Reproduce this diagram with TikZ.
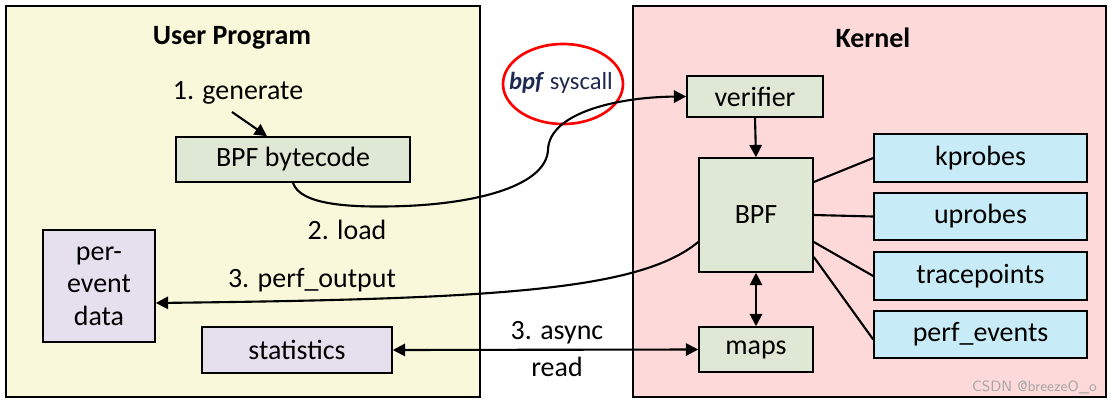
\documentclass[tikz,border=0pt]{standalone}
\usepackage{fontspec}
\setmainfont{Carlito}
\usepackage{xcolor}
\usetikzlibrary{arrows.meta}
\usetikzlibrary{shapes.geometric}
\definecolor{userbg}{RGB}{250,248,218}
\definecolor{kernbg}{RGB}{253,217,217}
\definecolor{greenbox}{RGB}{223,231,213}
\definecolor{bluebox}{RGB}{200,236,247}
\definecolor{lilacbox}{RGB}{230,224,238}
\definecolor{navy}{RGB}{31,42,80}

\begin{document}
\begin{tikzpicture}[x=0.02cm,y=-0.02cm,
		font=\fontsize{15.9}{18.5}\selectfont,
		box/.style={draw, line width=0.9pt, inner sep=0pt},
		link/.style={line width=1.2pt},
		arr/.style={line width=1.2pt, -{Triangle[length=7pt,width=7pt]}}]
			\useasboundingbox (0,0) rectangle (1119,403);
			\filldraw[fill=userbg, line width=0.9pt](6,6)rectangle(480,397);
			\filldraw[fill=kernbg, line width=0.9pt](633,6)rectangle(1106,397);
			\node[font=\fontsize{15.9}{18.5}\selectfont\bfseries] (user) at (232,38) {User Program};
			\node[font=\fontsize{15.9}{18.5}\selectfont\bfseries] (kernel) at (873,38) {Kernel};
			% user side
			\node (gen) at (238,93) {1. generate};
			\node[box, fill=greenbox, minimum width=4.68cm, minimum height=0.9cm] (code) at (293,159.5) {BPF bytecode};
			\node[box, fill=lilacbox, minimum width=2.24cm, minimum height=2.24cm, align=center] (perevent) at (99,286) {per-\\event\\data};
			\node[box, fill=lilacbox, minimum width=3.8cm, minimum height=0.92cm] (stats) at (297,350) {statistics};
			\node (load) at (347,230) {2. load};
			\node (perfout) at (312,280) {3. perf\_output};
			\node (async) at (557,333) {3. async};
			\node (read) at (557,367) {read};
			\node[text=navy, font=\fontsize{14}{16}\selectfont] (sys) at (561,83) {\textbf{\textit{bpf}} syscall};
			\draw[red, line width=1.5pt] (563,84) ellipse [x radius=1.2cm, y radius=0.8cm];
			% kernel side
			\node[box, fill=greenbox, minimum width=2.72cm, minimum height=0.82cm] (verif) at (755,96.5) {verifier};
			\node[box, fill=greenbox, minimum width=2.28cm, minimum height=2.28cm] (bpf) at (756,215) {BPF};
			\node[box, fill=greenbox, minimum width=2.28cm, minimum height=0.9cm] (maps) at (756,349.5) {maps};
			\node[box, fill=bluebox, minimum width=4.26cm, minimum height=0.96cm] (kprobes) at (980.5,158) {kprobes};
			\node[box, fill=bluebox, minimum width=4.26cm, minimum height=0.94cm] (uprobes) at (980.5,216.5) {uprobes};
			\node[box, fill=bluebox, minimum width=4.26cm, minimum height=0.96cm] (trace) at (980.5,276) {tracepoints};
			\node[box, fill=bluebox, minimum width=4.26cm, minimum height=0.94cm] (perfev) at (980.5,334.5) {perf\_events};
			\node[text=gray!70, font=\sffamily\fontsize{8.5}{10}\selectfont, anchor=east] (mark) at (1103,387) {CSDN @breezeO\_o};
			% connectors
			\coordinate (genstart) at (232,112);
			\draw[arr] (genstart) -- ([xshift=-0.52cm]code.north);
			\draw[arr] (code.south) .. controls (300,205) and (350,208) .. (405,206) .. controls (480,203) and (546,185) .. (548,150) .. controls (549,112) and (620,97) .. (verif.west);
			\draw[arr] (verif.south) -- (bpf.north);
			\draw[arr, {Triangle[length=7pt,width=7pt]}-{Triangle[length=7pt,width=7pt]}] (bpf.south) -- (maps.north);
			\draw[arr] ([yshift=-0.54cm]bpf.west) .. controls (640,290) and (500,299) .. ([yshift=-0.34cm]perevent.east);
			\draw[arr, {Triangle[length=7pt,width=7pt]}-{Triangle[length=7pt,width=7pt]}] (stats.east) -- (maps.west);
			\draw[link] ([yshift=0.66cm]bpf.east) -- (kprobes.west);
			\draw[link] (bpf.east) -- (uprobes.west);
			\draw[link] ([yshift=-0.54cm]bpf.east) -- (trace.west);
			\draw[link] ([yshift=-0.84cm]bpf.east) -- ([yshift=-0.1cm]perfev.west);
		\end{tikzpicture}
\end{document}
